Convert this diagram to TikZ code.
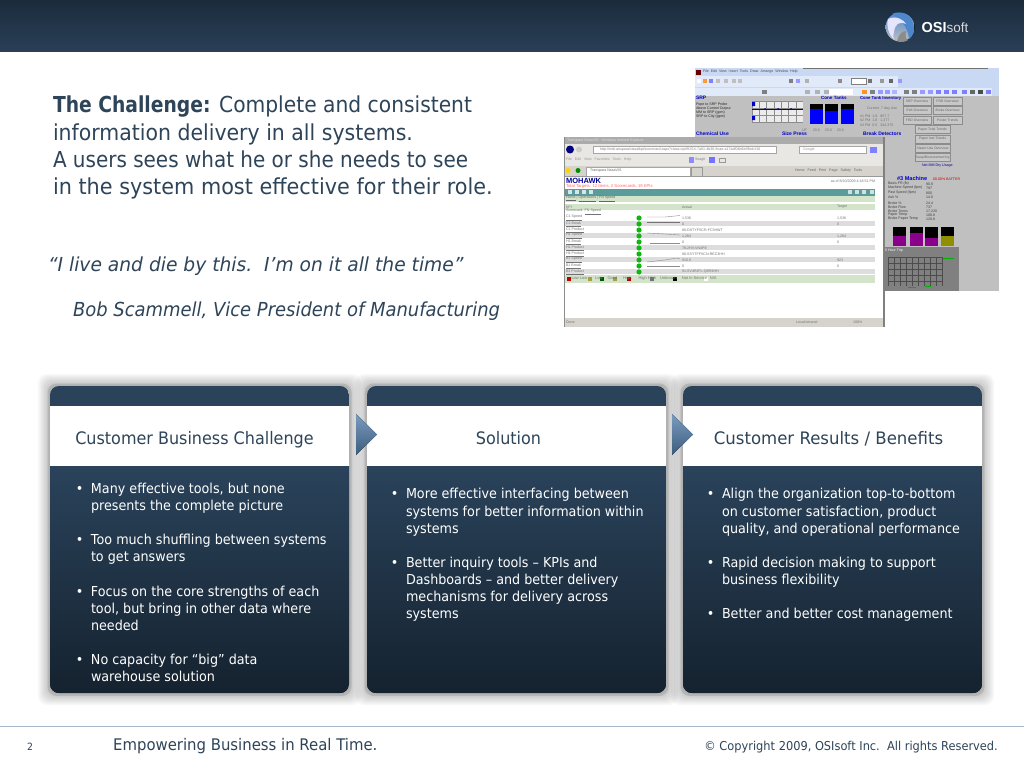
\documentclass[tikz,border=0pt]{standalone}
\usepackage{fontspec}
\setmainfont[FakeStretch=0.93,BoldFeatures={FakeStretch=0.86}]{DejaVu Sans}
\newfontfamily\shotfont{Liberation Sans}
\usetikzlibrary{shapes.geometric}
\definecolor{ink}{HTML}{2E4459}
\definecolor{navy}{HTML}{2A435B}
\definecolor{navydark}{HTML}{15222F}
\definecolor{hdrtop}{HTML}{1B2B3C}
\definecolor{hdrbot}{HTML}{2A4058}
\definecolor{rule}{HTML}{A9B8C8}
\definecolor{shotgray}{HTML}{C0C0C0}
\definecolor{barblue}{HTML}{C9D9F3}
\definecolor{bandblue}{HTML}{E1EAF8}
\definecolor{teal}{HTML}{5A9C9C}
\definecolor{palegreen}{HTML}{D3E4CB}
\definecolor{rowgray}{HTML}{DDDDDD}
\definecolor{winchrome}{HTML}{D6D3CC}
\definecolor{dotgreen}{HTML}{12B512}
\definecolor{shotlink}{HTML}{0000C8}
\definecolor{purplebar}{HTML}{8A008A}
\definecolor{olivebar}{HTML}{8F8F00}
\definecolor{logoblue}{HTML}{4E88CC}
\definecolor{chevlight}{HTML}{7A9CC0}
\definecolor{chevdark}{HTML}{3D5C7C}
\tikzset{
  txt/.style={inner sep=0pt,outer sep=0pt,anchor=north west,align=left,text=ink},
  headtxt/.style={inner sep=0pt,outer sep=0pt,anchor=base,text=ink,font=\fontsize{17.2}{20}\selectfont},
  bodytxt/.style={inner sep=0pt,outer sep=0pt,anchor=north west,align=left,text=white,font=\fontsize{13.7}{17.1}\selectfont},
  shottxt/.style={inner sep=0pt,outer sep=0pt,anchor=west,text=black!55,font=\shotfont\fontsize{3.6}{4}\selectfont},
  shotb/.style={shottxt,text=shotlink,font=\shotfont\bfseries\fontsize{5}{5}\selectfont},
  shotbtn/.style={draw=black!45,line width=.4pt,fill=black!22,inner sep=0pt,outer sep=0pt,text=black!60,font=\shotfont\fontsize{3.4}{4}\selectfont,anchor=center},
  rowfill/.style={fill=rowgray,draw=none},
}
\newcommand{\bul}{\leavevmode\llap{•\hspace{7.5pt}}}
\begin{document}
\begin{tikzpicture}[x=1pt,y=-1pt]
\useasboundingbox (0,0) rectangle (1024,768);
\fill[white] (0,0) rectangle (1024,768);
% header band
\fill[top color=hdrtop,bottom color=hdrbot] (0,0) rectangle (1024,52);
% logo
\fill[top color=logoblue,bottom color=black!25] (900,27) circle (14.5);
\fill[logoblue] (892,14) .. controls (902,9) and (914,17) .. (914,29) .. controls (914,33) and (912,37) .. (909,39) .. controls (908,28) and (902,20) .. (892,14) -- cycle;
\fill[white!90!blue] (888,19) .. controls (896,15) and (904,20) .. (906,24) .. controls (899,21) and (895,24) .. (894,32) .. controls (893,36) and (893,38) .. (894,39) .. controls (889,35) and (886,26) .. (888,19) -- cycle;
\fill[black!45] (897,41) .. controls (899,34) and (902,31) .. (906,31) .. controls (905,36) and (906,39) .. (908,40) .. controls (905,42) and (900,43) .. (897,41) -- cycle;
\node[inner sep=0pt,anchor=base west,text=white] (logotxt) at (921.5,32.5) {\shotfont\bfseries\fontsize{14.5}{15}\selectfont OSI\textcolor{black!15}{\mdseries\fontsize{13.5}{15}\selectfont soft}};

% title and quote
\node[txt,font=\fontsize{22}{27.3}\selectfont] (title) at (53,96) {\scalebox{.99}[1]{\textbf{The Challenge:} Complete and consistent}\\information delivery in all systems.\\\scalebox{.976}[1]{A users sees what he or she needs to see}\\\scalebox{1.016}[1]{in the system most effective for their role.}};
\node[txt,font=\itshape\fontsize{19.3}{22}\selectfont] (quote) at (48,257) {\scalebox{1.04}[1]{“I live and die by this.\ \ I’m on it all the time”}};
\node[txt,font=\itshape\fontsize{19.3}{22}\selectfont] (attrib) at (73,302) {Bob Scammell, Vice President of Manufacturing};

% ---------- back screenshot
\fill[shotgray] (695,68) rectangle (999,291);
\fill[barblue] (695,68) rectangle (999,96);
\fill[bandblue] (695,76) rectangle (898,87);
\fill[bandblue] (695,88) rectangle (992,96);
\draw[black!55,line width=.5pt] (803,68) -- (988,68);
\fill[black!60!red] (696,70) rectangle (701,75);
\node[shottxt,text=black!70] (bmenu) at (703,71.5) {File\ \ Edit\ \ View\ \ Insert\ \ Tools\ \ Draw\ \ Arrange\ \ Window\ \ Help};
\foreach \x/\c in {697/white,703/orange!80,709/blue!50,716/black!25,724/black!25,732/black!25,738/black!25,789/black!50,796/blue!40,805/black!30,838/black!45,868/black!55,880/black!40,889/black!60,898/blue!40}{\fill[\c] (\x,79) rectangle ++(4,4);}
\fill[white,draw=black!50,line width=.3pt] (851,78.5) rectangle (866,84);
\foreach \x/\c in {762/black!50,805/black!30,815/black!30,824/black!30,840/black!30,862/orange!85,870/black!50,878/blue!40,885/blue!40,892/blue!30,904/black!50,912/black!50,920/blue!40,928/blue!40,936/blue!50,944/blue!50,952/blue!50,962/blue!50,970/black!60,978/black!70,986/blue!50}{\fill[\c] (\x,90) rectangle ++(5,4);}
\fill[white] (829,89) rectangle (853,95);
\node[shotb] (bsrp) at (696,98) {SRP};
\node[shottxt,text=black!85] (bsrpa) at (696,105) {Pope to SRP Probe};
\node[shottxt,text=black!85] (bsrpb) at (696,109) {Above Control Output};
\node[shottxt,text=black!85] (bsrpc) at (696,113) {MM to SRP (gpm)};
\node[shottxt,text=black!85] (bsrpd) at (696,117) {SRP to City (gpm)};
\fill[black!8] (752,101) rectangle (803,122);
\foreach \x in {752,759.3,...,803}{\draw[black!45,line width=.3pt] (\x,101) -- (\x,122);}
\foreach \y in {101,108,115,122}{\draw[black!45,line width=.3pt] (752,\y) -- (803,\y);}
\draw[blue!70!black,line width=.4pt] (752,109) -- (803,109);
\foreach \x in {765,778,791}{\fill[blue!70!black] (\x,109) circle (1);}
\fill[blue!80!black] (752,102) rectangle (755,106) (752,116) rectangle (755,120);
\node[shotb,font=\shotfont\bfseries\fontsize{4.6}{5}\selectfont] (bcone) at (821,98) {Cone Tanks};
\foreach \x/\tp in {810/109,825/111,841/109}{
  \fill[black] (\x,104) rectangle ++(13,20);
  \fill[blue] (\x,\tp) rectangle (\x+13,124);
}
\node[shotb,font=\shotfont\bfseries\fontsize{4.2}{5}\selectfont] (bcth) at (860,98) {Cone Tank Inventory};
\node[shottxt] (bcta) at (867,109) {Current\ \ 7 day Use};
\node[shottxt] (bctb) at (860,116) {\#1 PM\ \ 1.8\ \ \ 857.7};
\node[shottxt] (bctc) at (860,120) {\#2 PM\ \ 1.8\ \ \ 1,377};
\node[shottxt] (bctd) at (860,125) {\#3 PM\ \ 0.5\ \ \ 344,370};
\node[shottxt] (bcte) at (802,130) {UF\ \ \ \ \ \ 20.0\ \ \ \ \ 20.0\ \ \ \ \ 20.0};
\node[shotbtn,minimum width=28,minimum height=8] (b1) at (917,101) {SRP Overview};
\node[shotbtn,minimum width=29,minimum height=8] (b2) at (947.5,101) {FRD Overview};
\node[shotbtn,minimum width=28,minimum height=8] (b3) at (917,110) {SWI Overview};
\node[shotbtn,minimum width=29,minimum height=8] (b4) at (947.5,110) {Broke Overview};
\node[shotbtn,minimum width=28,minimum height=8] (b5) at (917,120) {FRD Overview};
\node[shotbtn,minimum width=29,minimum height=8] (b6) at (947.5,120) {Poster Trends};
\node[shotbtn,minimum width=35,minimum height=8] (b7) at (932.5,129.5) {Paper Total Trends};
\node[shotbtn,minimum width=35,minimum height=8] (b8) at (932.5,139) {Paper Inst Trends};
\node[shotbtn,minimum width=35,minimum height=8] (b9) at (932.5,148) {Steam Use Overview};
\node[shotbtn,minimum width=35,minimum height=8] (b10) at (932.5,157.5) {Swap/Bioreclaimed Kg};
\node[shotb] (bchem) at (696,133.5) {Chemical Use};
\node[shotb] (bsize) at (782,133.5) {Size Press};
\node[shotb] (bbreak) at (863,133.5) {Break Detectors};
\node[shottxt,text=blue!60!black] (bcheck) at (922,166) {Net MM Dry Usage};
\node[shotb,font=\shotfont\bfseries\fontsize{5.6}{6}\selectfont] (bmach) at (897,179) {\#3 Machine};
\node[shottxt,text=red!80!black] (bbat) at (933,179) {00.00\% BATTER};
\foreach \i/\y/\l in {1/184/Basis FR (lb),2/188/Machine Speed (fpm),3/193/Past Speed (fpm),4/197/Ash \%,5/203/Broke \%,6/207/Broke Flow,7/211/Broke Tones,8/215/Paper Temp,9/219/Broke Paper Temp}{
  \node[shottxt,text=black!75] (bl\i) at (888,\y) {\l};
}
\foreach \i/\y/\v in {1/184/90.8,2/188/797,3/193/800,4/197/14.0,5/203/24.4,6/207/737,7/211/{17,220},8/215/108.8,9/219/128.8}{
  \node[shottxt,text=black!75] (bv\i) at (926,\y) {\v};
}
\foreach \x/\tp/\c in {893/236/purplebar,910/233/purplebar,925/238/purplebar,941/236/olivebar}{
  \fill[black] (\x,227) rectangle ++(13,19);
  \fill[\c] (\x,\tp) rectangle (\x+13,246);
}
\fill[black!50] (884,247) rectangle (959,291);
\foreach \x in {888,894,...,943}{\draw[black!70,line width=.35pt] (\x,257) -- (\x,286);}
\foreach \y in {257,263,...,286}{\draw[black!70,line width=.35pt] (888,\y) -- (943,\y);}
\draw[green!70!black,line width=.9pt] (943,258.5) -- (954,258.5);
\draw[green!70!black,line width=.7pt] (908,287) -- (916,287) (925,286) -- (931,286);
\node[shottxt,text=white] (btrend) at (885,251) {5 Hour Trip};

% ---------- front screenshot
\fill[white] (564,137) rectangle (885,327);
\fill[black!33] (564,137) rectangle (885,144);
\node[shottxt,text=black!12] (ftitle) at (567,140.5) {Transpara NosaVIS - Windows Internet Explorer};
\fill[winchrome!55] (564,144) rectangle (885,166);
\fill[winchrome] (564,166) rectangle (885,176);
\fill[blue!50!black] (570,149.5) circle (4);
\fill[black!20] (579,149.5) circle (3);
\fill[white,draw=black!35,line width=.3pt] (593,146) rectangle (776,153);
\node[shottxt,text=black!50] (faddr) at (600,149.5) {http://mdi-anspara/visualkpi/scorecard.aspx?class=rpt/fK/SX-7a81-4b36-8cae-a17adf04b6ef/fkid=f16};
\fill[white,draw=black!35,line width=.3pt] (799,146) rectangle (866,153);
\node[shottxt,text=black!40] (fgoo) at (803,149.5) {Google};
\fill[blue!50] (870,146.5) rectangle (877,152.5);
\node[shottxt,text=black!40] (fmenu) at (566,160) {File\ \ \ Edit\ \ \ View\ \ \ Favorites\ \ \ Tools\ \ \ Help};
\fill[blue!45] (689,157) rectangle (694,163);
\node[shottxt,text=black!50] (fsnag) at (695,160) {SnagIt};
\fill[blue!55] (709,157) rectangle (715,163);
\draw[black!40,line width=.4pt] (719,158) rectangle (725,162);
\fill[yellow!70!orange] (568,170.5) circle (2.5);
\fill[green!55!black] (578,170.5) circle (2.5);
\fill[white,draw=black!35,line width=.3pt] (586,167) rectangle (690,176);
\node[shottxt,text=black!60] (ftab) at (590,171) {Transpara NosaVIS};
\draw[black!40,line width=.3pt] (691,167) rectangle (702,176);
\node[shottxt,text=black!60] (ftools) at (795,171) {Home\ \ \ Feed\ \ \ Print\ \ \ Page\ \ \ Safety\ \ \ Tools};
\draw[black!40,line width=.4pt] (564,176) -- (885,176);
\node[shottxt,text=blue!60!black,font=\shotfont\bfseries\fontsize{7.5}{8}\selectfont] (fmoh) at (566,180.5) {MOHAWK};
\node[shottxt,text=red!60,font=\shotfont\fontsize{4.2}{5}\selectfont] (fred) at (566,186) {Total Targets: 12 Items, 2 Scorecards, 19 KPIs};
\node[shottxt,anchor=east] (fasof) at (875,181) {as of 8/10/2009 4:18:51 PM};
\fill[teal] (565,189) rectangle (875,195.5);
\foreach \x in {568,575,582,589}{\fill[white!75!teal] (\x,190) rectangle ++(4,4);}
\foreach \x in {848,855,862,870}{\fill[white!70!teal] (\x,190) rectangle ++(3.5,4);}
\fill[palegreen] (565,195.5) rectangle (875,202);
\node[shottxt,text=black!60] (fcrumb) at (566,198.8) {\underline{Home}\ |\ \underline{Operations}\ |\ \underline{FN Speed}};
\fill[palegreen] (565,204) rectangle (875,209.5);
\node[shottxt] (fkpi) at (566,206.8) {KPI};
\node[shottxt] (factual) at (682,206.8) {Actual};
\node[shottxt] (ftarget) at (837,206.8) {Target};
\node[shottxt] (fscore) at (566,212) {Scorecard: \underline{FN Speed}};
\foreach \i/\nm/\av/\tv/\g in {0/C1 Speed/{1,536}/{1,536}/0,1/C1 Break/0/0/1,2/C1 Product/80-DSTYFSCR-FC3HWT//0,3/H1 Speed/{1,264}/{1,264}/1,4/H1 Break/0/0/0,5/H1 Product/78-2HV-VN4PE//1,6/H4 Product/80-SSYTFFSCN-REC3HH//0,7/B1 Speed/910.0/923/1,8/B1 Break/0/0/0,9/B3 Product/91-SV4RJFL-QBR4HH//1}{
  \ifnum\g=1 \fill[rowfill] (565,{217.5+6*\i-2.6}) rectangle (875,{217.5+6*\i+2.6});\fi
  \fill[dotgreen] (639,{218+6*\i}) circle (2.6);
  \node[shottxt] (fn\i) at (566,{218+6*\i}) {\underline{\nm}};
  \node[shottxt] (fa\i) at (682,{218+6*\i}) {\av};
  \node[shottxt] (ft\i) at (837,{218+6*\i}) {\tv};
}
\draw[black!45,line width=.4pt] (647,217) -- (665,217) -- (680,215.5);
\draw[black!55,line width=.4pt] (647,222.5) -- (680,222.5);
\draw[black!45,line width=.4pt] (647,233) -- (665,234) -- (680,235);
\draw[black!45,line width=.4pt] (650,243) -- (680,243);
\draw[black!45,line width=.4pt] (647,262) -- (665,260) -- (677,258) -- (680,259);
\draw[black!45,line width=.4pt] (647,266.5) -- (680,266.5);
\fill[palegreen] (565,275) rectangle (875,282.5);
\foreach \x/\c in {567/red!75!black,588/yellow!60!black,600/green!35!black,613/yellow!60!black,627/red!70!black,650/black!55,673/black,704/white}{\fill[\c] (\x,276.5) rectangle ++(3.5,4);}
\node[shottxt,font=\shotfont\fontsize{4}{4}\selectfont] (flegend) at (571.5,278.7) {Low Low\hspace{8pt}Low\hspace{5pt}Good\hspace{6pt}High\hspace{7pt}High High\hspace{4pt}Unknown\hspace{5pt}Not In Service\hspace{3pt}N/A};
\fill[winchrome] (564,318) rectangle (885,327);
\node[shottxt] (fdone) at (566,322.5) {Done};
\node[shottxt] (fzone) at (796,322.5) {Local intranet};
\node[shottxt] (fzoom) at (853,322.5) {100\%};
\fill[black!50] (883,137) rectangle (885,327);
\draw[black!45,line width=.4pt] (564,137) -- (564,327);

% ---------- panel shadows
\foreach \xa/\xb in {50/349,367/666,683/982}{
  \foreach \e in {12,10.5,...,1.5}{
    \fill[black,opacity=.033,rounded corners=9] (\xa-\e,386-\e) rectangle (\xb+\e,693+\e);
  }
  \fill[black,opacity=.09,rounded corners=9] (\xa-2.5,386-2.5) rectangle (\xb+2.5,693+3);
}
% ---------- panels
\foreach \xa/\xb in {50/349,367/666,683/982}{
  \begin{scope}
    \clip[rounded corners=9] (\xa,386) rectangle (\xb,693);
    \fill[navy] (\xa,386) rectangle (\xb,407);
    \fill[white] (\xa,406) rectangle (\xb,466);
    \fill[top color=navy,bottom color=navydark] (\xa,466) rectangle (\xb,693);
  \end{scope}
}
% chevrons
\foreach \xa in {356,672}{
  \fill[top color=chevlight,bottom color=chevdark] (\xa,414) -- (\xa+21,434.5) -- (\xa,455) -- cycle;
}
\node[headtxt] (h1) at (194.5,444) {Customer Business Challenge};
\node[headtxt] (h2) at (508.5,444) {Solution};
\node[headtxt] (h3) at (828.5,444) {\scalebox{1.035}[1]{Customer Results / Benefits}};

\node[bodytxt] (b1list) at (91,483) {\bul Many effective tools, but none\\presents the complete picture\\[17.1pt]\bul Too much shuffling between systems\\to get answers\\[17.1pt]\bul Focus on the core strengths of each\\tool, but bring in other data where\\needed\\[17.1pt]\bul No capacity for “big” data\\warehouse solution};
\node[bodytxt] (b2list) at (406,488.5) {\bul More effective interfacing between\\systems for better information within\\systems\\[17.1pt]\bul Better inquiry tools – KPIs and\\Dashboards – and better delivery\\mechanisms for delivery across\\systems};
\node[bodytxt] (b3list) at (722,488.5) {\bul Align the organization top-to-bottom\\on customer satisfaction, product\\quality, and operational performance\\[17.1pt]\bul Rapid decision making to support\\business flexibility\\[17.1pt]\bul Better and better cost management};

% footer
\draw[rule,line width=1pt] (0,726) -- (1024,726);
\node[inner sep=0pt,text=ink,font=\fontsize{10}{12}\selectfont] (pageno) at (30,746.5) {2};
\node[inner sep=0pt,anchor=west,text=ink,font=\fontsize{16}{19}\selectfont] (tagline) at (113,746.5) {Empowering Business in Real Time.};
\node[inner sep=0pt,anchor=east,text=ink,font=\fontsize{12.25}{14}\selectfont] (copy) at (998,747) {© Copyright 2009, OSIsoft Inc.\ \ All rights Reserved.};
\end{tikzpicture}
\end{document}
